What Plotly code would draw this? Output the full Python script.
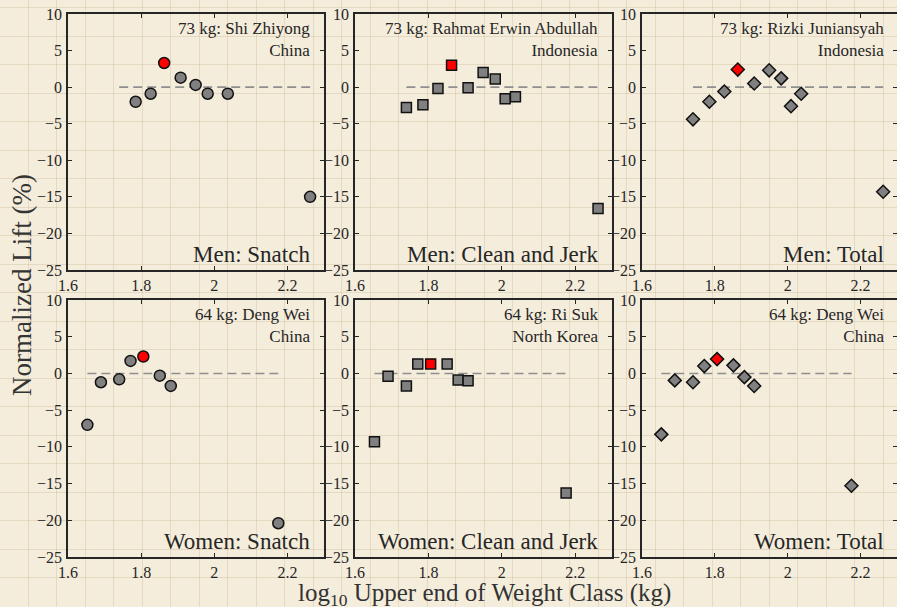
import plotly.graph_objects as go

# log10 of the upper end of each weight class (last one = open class)
men_classes = [1.740, 1.785, 1.826, 1.863, 1.908, 1.949, 1.982, 2.009, 2.037, 2.262]
women_classes = [1.653, 1.690, 1.740, 1.771, 1.806, 1.851, 1.881, 1.908, 2.175]

# normalized lift (%) per class, None = no point
men_snatch = [None, -2.0, -0.9, 3.3, 1.3, 0.3, -0.9, None, -0.9, -15.0]
men_cj = [-2.8, -2.4, -0.2, 3.0, -0.1, 2.0, 1.1, -1.6, -1.3, -16.6]
men_total = [-4.4, -2.0, -0.6, 2.4, 0.5, 2.3, 1.2, -2.6, -0.9, -14.3]

women_snatch = [-7.0, -1.2, -0.8, 1.7, 2.3, -0.3, -1.7, None, -20.4]
women_cj = [-9.3, -0.4, -1.7, 1.3, 1.3, 1.3, -0.9, -1.0, -16.3]
women_total = [-8.3, -0.95, -1.2, 1.0, 1.95, 1.1, -0.5, -1.7, -15.3]

men_best = 3      # 73 kg
women_best = 4    # 64 kg

panel_titles = ["Men: Snatch", "Men: Clean and Jerk", "Men: Total",
                "Women: Snatch", "Women: Clean and Jerk", "Women: Total"]
athletes = ["73 kg: Shi Zhiyong<br>China",
            "73 kg: Rahmat Erwin Abdullah<br>Indonesia",
            "73 kg: Rizki Juniansyah<br>Indonesia",
            "64 kg: Deng Wei<br>China",
            "64 kg: Ri Suk<br>North Korea",
            "64 kg: Deng Wei<br>China"]

x_ticks = [1.6, 1.8, 2.0, 2.2]
x_tick_text = ["1.6", "1.8", "2", "2.2"]
y_ticks = [-25, -20, -15, -10, -5, 0, 5, 10]

W, H = 897, 607
FONT = "Liberation Serif"
TEXT = "#262626"
PAPER = "#f5eddc"

cols = [(68, 324), (355, 612), (642, 898)]
rows = [(14, 270), (300, 557)]

panels = [
    (men_classes, men_snatch, men_best, "circle", 11),
    (men_classes, men_cj, men_best, "square", 10),
    (men_classes, men_total, men_best, "diamond", 10),
    (women_classes, women_snatch, women_best, "circle", 11),
    (women_classes, women_cj, women_best, "square", 10),
    (women_classes, women_total, women_best, "diamond", 10),
]

fig = go.Figure()

# paper texture grid on the first (background) axis pair
grid = dict(showgrid=True, gridcolor="rgba(185,165,130,0.28)", gridwidth=1,
            zeroline=False, showticklabels=False, ticks="", showline=False,
            automargin=False, fixedrange=True)
fig.update_layout(
    xaxis=dict(domain=[0, 1], range=[0, W], tick0=-0.5, dtick=28.5, anchor="y", **grid),
    yaxis=dict(domain=[0, 1], range=[H, 0], tick0=7.7, dtick=28.5, anchor="x", **grid),
)
fig.add_trace(go.Scatter(x=[None], y=[None], xaxis="x", yaxis="y",
                         showlegend=False, hoverinfo="skip"))

annotations = []
for i, (classes, vals, best, symbol, size) in enumerate(panels):
    n = i + 2
    xa, ya = "x%d" % n, "y%d" % n
    c0, c1 = cols[i % 3]
    r0, r1 = rows[i // 3]

    fig.add_trace(go.Scatter(
        x=[classes[0], classes[-1]], y=[0, 0], mode="lines",
        line=dict(color="#8f8f8f", width=1.6, dash="9px,5px"),
        xaxis=xa, yaxis=ya, showlegend=False, hoverinfo="skip"))

    xs, ys, colors = [], [], []
    for k, (cx, v) in enumerate(zip(classes, vals)):
        if v is None:
            continue
        xs.append(cx)
        ys.append(v)
        colors.append("#ff0000" if k == best else "#808080")

    fig.add_trace(go.Scatter(
        x=xs, y=ys, mode="markers", cliponaxis=False,
        marker=dict(symbol=symbol, size=size, color=colors,
                    line=dict(color="#111111", width=1.5)),
        xaxis=xa, yaxis=ya, showlegend=False))

    axis_common = dict(showline=True, linecolor="#262626", linewidth=1.6,
                       mirror="ticks", ticks="inside", ticklen=4, tickwidth=1,
                       tickcolor="#262626", showgrid=False, zeroline=False,
                       automargin=False,
                       tickfont=dict(family=FONT, size=16, color=TEXT))
    fig.layout["xaxis%d" % n] = dict(
        domain=[c0 / W, min(c1 / W, 1.0)], anchor=ya, range=[1.6, 2.3],
        tickvals=x_ticks, ticktext=x_tick_text, **axis_common)
    fig.layout["yaxis%d" % n] = dict(
        domain=[1 - r1 / H, 1 - r0 / H], anchor=xa, range=[-25, 10],
        tickvals=y_ticks, ticklabelstandoff=1, **axis_common)

    annotations.append(dict(
        text=athletes[i], xref=xa + " domain", yref=ya + " domain",
        x=0.955, y=0.99, xanchor="right", yanchor="top", align="right",
        showarrow=False, font=dict(family=FONT, size=17, color=TEXT)))
    annotations.append(dict(
        text=panel_titles[i], xref=xa + " domain", yref=ya + " domain",
        x=0.955, y=0.005, xanchor="right", yanchor="bottom", align="right",
        showarrow=False, font=dict(family=FONT, size=23, color=TEXT)))

annotations.append(dict(
    text="Normalized Lift (%)", xref="paper", yref="paper",
    x=22 / W, y=1 - 285 / H, textangle=-90, showarrow=False,
    xanchor="center", yanchor="middle",
    font=dict(family=FONT, size=27, color="#333333")))
annotations.append(dict(
    text="log<sub>10</sub> Upper end of Weight Class (kg)", xref="paper", yref="paper",
    x=484 / W, y=1 - 594 / H, showarrow=False,
    xanchor="center", yanchor="middle",
    font=dict(family=FONT, size=25, color="#333333")))

fig.update_layout(
    template="none",
    width=W, height=H,
    margin=dict(l=0, r=0, t=0, b=0, autoexpand=False),
    paper_bgcolor=PAPER,
    plot_bgcolor="rgba(0,0,0,0)",
    annotations=annotations,
    showlegend=False,
)

fig.write_html("out.html", config={"displayModeBar": False},
               post_script="document.body.style.margin='0';")
